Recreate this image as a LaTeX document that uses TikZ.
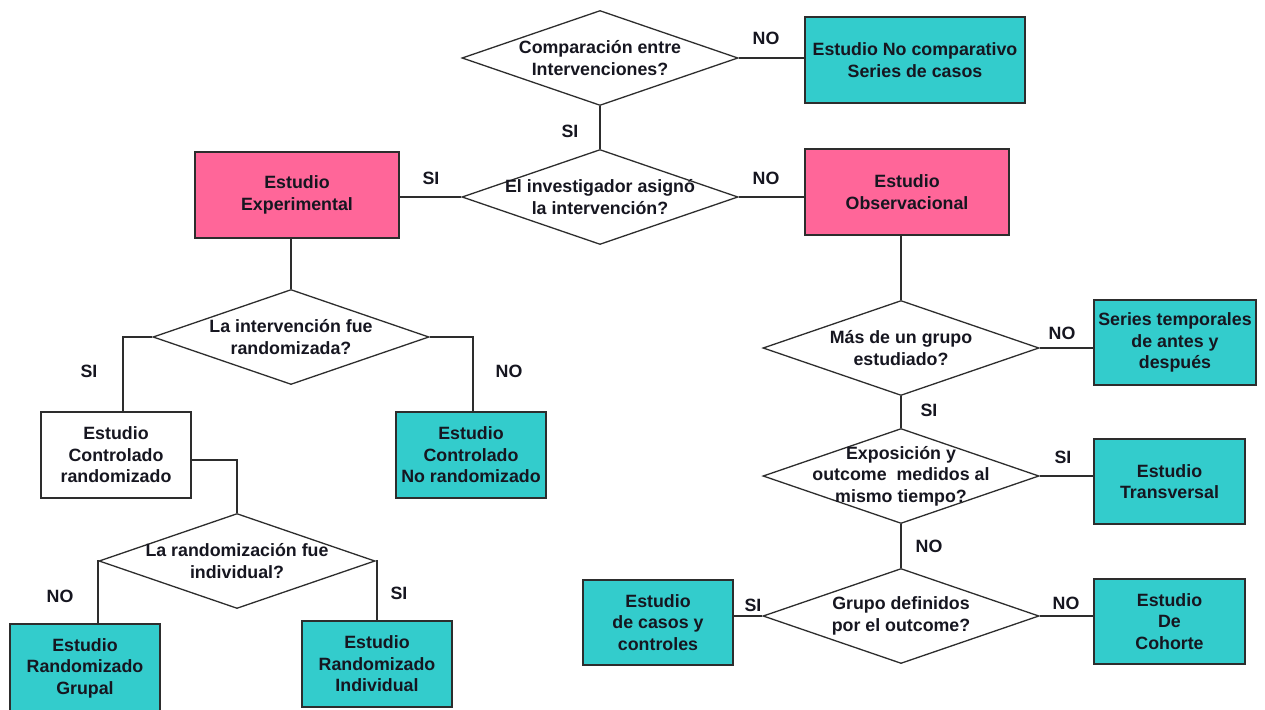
\documentclass[tikz,border=0pt]{standalone}
\usepackage{fontspec}
\setmainfont{Liberation Sans}
\usetikzlibrary{shapes.geometric}
\definecolor{teal2}{RGB}{51,204,204}
\definecolor{pink2}{RGB}{255,102,153}
\definecolor{ink}{RGB}{22,22,32}
\definecolor{edge}{RGB}{45,45,45}
\begin{document}
\begin{tikzpicture}[x=1pt,y=-1pt,
  font=\bfseries\fontsize{17.8}{21.5}\selectfont, text=ink,
  box/.style={draw=edge, line width=1.4pt, rectangle, inner sep=0pt, align=center},
  tealbox/.style={box, fill=teal2},
  pinkbox/.style={box, fill=pink2},
  whitebox/.style={box, fill=white},
  dia/.style={diamond, draw=edge, line width=1.3pt, fill=white, inner sep=0pt,
    minimum width=276pt, minimum height=95pt,
    label={[align=center, inner sep=0pt]center:#1}},
  lbl/.style={inner sep=0pt},
  conn/.style={draw=edge, line width=1.4pt}]
\useasboundingbox[fill=white] (0,0) rectangle (1265,709);

% decision diamonds
\node[dia={Comparación entre\\Intervenciones?}] (d1) at (600,58) {};
\node[dia={El investigador asignó\\la intervención?}] (d2) at (600,197) {};
\node[dia={La intervención fue\\randomizada?}] (d3) at (291,337) {};
\node[dia={La randomización fue\\individual?}] (d4) at (237,561) {};
\node[dia={Más de un grupo\\estudiado?}] (d5) at (901,348) {};
\node[dia={Exposición y\\outcome~ medidos al\\mismo tiempo?}] (d6) at (901,476) {};
\node[dia={Grupo definidos\\por el outcome?}] (d7) at (901,616) {};

% boxes
\node[tealbox, minimum width=220pt, minimum height=86pt] (nc) at (915,60) {Estudio No comparativo\\Series de casos};
\node[pinkbox, minimum width=204pt, minimum height=86pt] (exp) at (297,195) {Estudio\\Experimental};
\node[pinkbox, minimum width=204pt, minimum height=86pt] (obs) at (907,192) {Estudio\\Observacional};
\node[tealbox, minimum width=162pt, minimum height=85pt] (ser) at (1175,342.5) {Series temporales\\de antes y\\después};
\node[tealbox, minimum width=151pt, minimum height=85pt] (tra) at (1169.5,481.5) {Estudio\\Transversal};
\node[tealbox, minimum width=150pt, minimum height=85pt] (caso) at (658,622.5) {Estudio\\de casos y\\controles};
\node[tealbox, minimum width=151pt, minimum height=85pt] (coh) at (1169.5,621.5) {Estudio\\De\\Cohorte};
\node[whitebox, minimum width=150pt, minimum height=86pt] (ecr) at (116,455) {Estudio\\Controlado\\randomizado};
\node[tealbox, minimum width=150pt, minimum height=86pt] (nr) at (471,455) {Estudio\\Controlado\\No randomizado};
\node[tealbox, minimum width=150pt, minimum height=88pt] (gru) at (85,668) {Estudio\\Randomizado\\Grupal};
\node[tealbox, minimum width=150pt, minimum height=86pt] (ind) at (377,664) {Estudio\\Randomizado\\Individual};

% connectors
\path[conn] (d1.east) -- (d1.east -| nc.west);
\path[conn] (d1.south) -- (d2.north);
\path[conn] (d2.west) -- (d2.west -| exp.east);
\path[conn] (d2.east) -- (d2.east -| obs.west);
\path[conn] (d3.north) -- (d3.north |- exp.south);
\path[conn] (d5.north) -- (d5.north |- obs.south);
\path[conn] (d5.east) -- (d5.east -| ser.west);
\path[conn] (d5.south) -- (d6.north);
\path[conn] (d6.east) -- (d6.east -| tra.west);
\path[conn] (d6.south) -- (d7.north);
\path[conn] (d7.west) -- (d7.west -| caso.east);
\path[conn] (d7.east) -- (d7.east -| coh.west);
\path[conn] (d3.west) -| ([xshift=7pt]ecr.north);
\path[conn] (d3.east) -| ([xshift=2pt]nr.north);
\path[conn] ([yshift=-5pt]ecr.east) -| (d4.north);
\path[conn] (d4.west) -| ([xshift=13pt]gru.north);
\path[conn] (d4.east) -| (ind.north);

% answer labels
\node[lbl] (l1) at (766,38) {NO};
\node[lbl] (l2) at (570,131) {SI};
\node[lbl] (l3) at (431,178) {SI};
\node[lbl] (l4) at (766,178) {NO};
\node[lbl] (l5) at (89,371) {SI};
\node[lbl] (l6) at (509,371) {NO};
\node[lbl] (l7) at (60,596) {NO};
\node[lbl] (l8) at (399,593) {SI};
\node[lbl] (l9) at (1062,333) {NO};
\node[lbl] (l10) at (929,410) {SI};
\node[lbl] (l11) at (1063,457) {SI};
\node[lbl] (l12) at (929,546) {NO};
\node[lbl] (l13) at (753,605) {SI};
\node[lbl] (l14) at (1066,603) {NO};
\end{tikzpicture}
\end{document}
